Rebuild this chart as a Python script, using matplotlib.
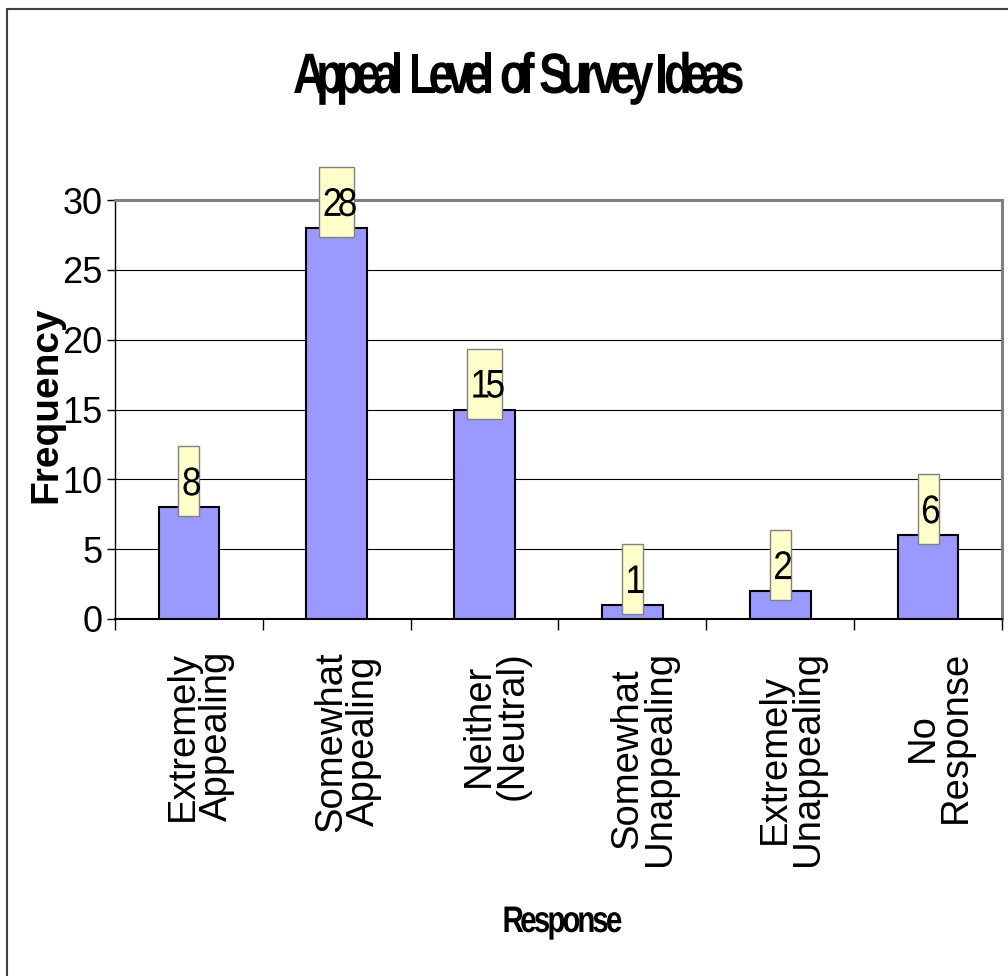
import matplotlib
matplotlib.use('Agg')
import matplotlib.pyplot as plt
from matplotlib.patches import Rectangle, PathPatch
from matplotlib.textpath import TextPath
from matplotlib.font_manager import FontProperties, findfont, get_font
from matplotlib.transforms import Affine2D, IdentityTransform, ScaledTranslation
try:
    from matplotlib.ft2font import LoadFlags
    NO_HINT = LoadFlags.NO_HINTING
except ImportError:
    from matplotlib.ft2font import LOAD_NO_HINTING as NO_HINT

# data
categories = ['Extremely\nAppealing', 'Somewhat\nAppealing', 'Neither\n(Neutral)',
              'Somewhat\nUnappealing', 'Extremely\nUnappealing', 'No\nResponse']
counts = [8, 28, 15, 1, 2, 6]
yticks = [0, 5, 10, 15, 20, 25, 30]
title = 'Appeal Level of Survey Ideas'
xlabel = 'Response'
ylabel = 'Frequency'

plt.rcParams['font.family'] = ['Liberation Sans', 'DejaVu Sans']

W, H = 1008, 976
fig = plt.figure(figsize=(W / 100, H / 100), dpi=100)
ax = fig.add_axes([115 / W, 1 - 619 / H, (1002 - 115) / W, (619 - 200) / H])


def squeezed(s, xc, yb, size, glyph_sx, width, bold=True, z=6):
    ## draws text with tight (overlapping) letter spacing, coords in pixels
    prop = FontProperties(family='Liberation Sans', weight='bold' if bold else 'normal')
    font = get_font(findfont(prop))
    font.set_size(size, 72)
    adv = [font.load_char(ord(c), flags=NO_HINT).linearHoriAdvance / 65536 for c in s]
    k = width / sum(adv)
    x = xc - width / 2
    for c, a in zip(s, adv):
        if c != ' ':
            p = TextPath((0, 0), c, size=size, prop=prop)
            tr = Affine2D().scale(glyph_sx, 1).translate(x, yb)
            fig.add_artist(PathPatch(p, transform=tr, fc='black', lw=0, zorder=z))
        x += a * k


x = list(range(len(categories)))
ax.bar(x, counts, width=0.41, color='#9999FF', edgecolor='black', linewidth=1.5, zorder=2)

ax.set_xlim(-0.5, len(categories) - 0.5)
ax.set_ylim(0, 30)
ax.set_yticks(yticks)
ax.set_yticklabels([str(t) for t in yticks], fontsize=26,
                   family=['Liberation Sans Narrow', 'Liberation Sans'])
ax.tick_params(axis='y', direction='out', length=6, width=1, pad=3)
ax.set_xticks(x)
ax.set_xticklabels(categories, rotation=90, fontsize=27.5, linespacing=0.9)
ax.set_xticks([i - 0.5 for i in range(len(categories) + 1)], minor=True)
ax.tick_params(axis='x', which='major', length=0, pad=23)
ax.tick_params(axis='x', which='minor', direction='out', length=8, width=1)
shift = ScaledTranslation(11 / 100, 0, fig.dpi_scale_trans)
for lab in ax.get_xticklabels():
    lab.set_transform(lab.get_transform() + shift)

ax.grid(axis='y', color='black', linewidth=0.8)
ax.set_axisbelow(True)
ax.spines['left'].set_linewidth(1)
ax.spines['bottom'].set_linewidth(1.5)
for side in ['top', 'right']:
    ax.spines[side].set_color('#808080')
    ax.spines[side].set_linewidth(2.2)

# value labels in pale yellow boxes
for i, v in enumerate(counts):
    px, py = ax.transData.transform((i, v))
    cy = py + 26
    bw = 7 + 14 * len(str(v))
    fig.add_artist(Rectangle((px - bw / 2, cy - 35), bw, 70, transform=IdentityTransform(),
                             fc='#FFFFCC', ec='#808080', lw=1, zorder=4))
    squeezed(str(v), px + 1, cy - 14, 40, 0.88, 2 + 14 * len(str(v)), bold=False)

squeezed(title, 515, H - 93, 57, 0.8, 444)
squeezed(xlabel, 561, H - 932, 37, 0.8, 117)
fig.text(46 / W, 1 - 405 / H, ylabel, rotation=90, ha='center', va='center',
         fontsize=28, fontweight='bold')

# outer chart frame
fig.add_artist(Rectangle((7 / W, -0.02), 1.05, 1.02 - 9.5 / H, transform=fig.transFigure,
                         fill=False, ec='#404040', lw=1.5, zorder=0))

fig.savefig('out.png', dpi=100)
